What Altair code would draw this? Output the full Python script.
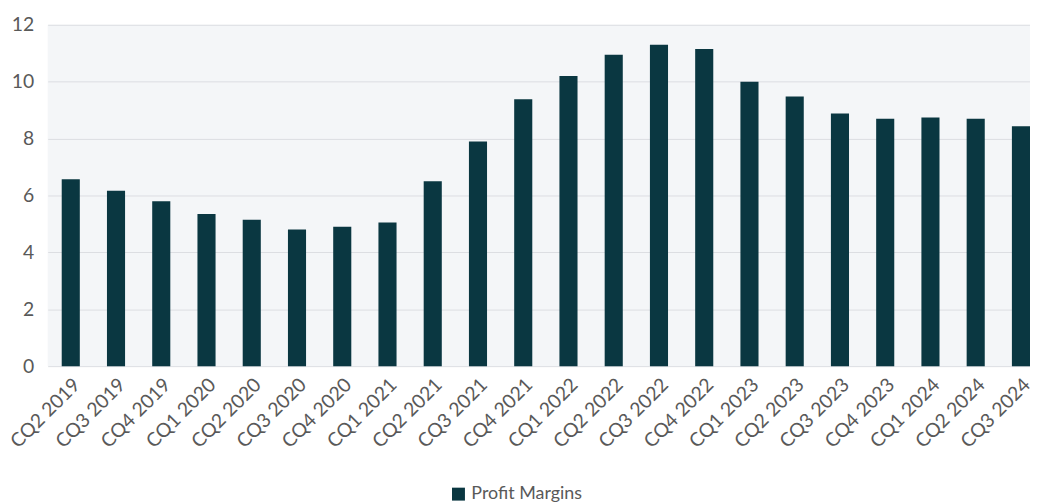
import altair as alt
import pandas as pd

quarters = ["CQ2 2019", "CQ3 2019", "CQ4 2019", "CQ1 2020", "CQ2 2020", "CQ3 2020",
            "CQ4 2020", "CQ1 2021", "CQ2 2021", "CQ3 2021", "CQ4 2021", "CQ1 2022",
            "CQ2 2022", "CQ3 2022", "CQ4 2022", "CQ1 2023", "CQ2 2023", "CQ3 2023",
            "CQ4 2023", "CQ1 2024", "CQ2 2024", "CQ3 2024"]
margins = [6.57, 6.17, 5.8, 5.35, 5.15, 4.8, 4.9, 5.05, 6.5, 7.9, 9.38, 10.2,
           10.95, 11.3, 11.15, 10.0, 9.48, 8.88, 8.7, 8.74, 8.7, 8.43]
series = ["Profit Margins"] * len(quarters)

df = pd.DataFrame({"quarter": quarters, "value": margins, "series": series})

FONT = "Lato"
GRAY = "#595959"

chart = alt.Chart(df).mark_bar(color="#0a3741").encode(
    x=alt.X("quarter:N", sort=quarters, title=None,
            scale=alt.Scale(paddingInner=0.6, paddingOuter=0.155, align=1),
            axis=alt.Axis(labelAngle=-45, labelFontSize=19.5, labelColor=GRAY,
                          labelFont=FONT, ticks=False, domain=False, labelPadding=9)),
    y=alt.Y("value:Q", title=None,
            scale=alt.Scale(domain=[0, 12], nice=False),
            axis=alt.Axis(values=[0, 2, 4, 6, 8, 10, 12], labelFontSize=19.5,
                          labelColor=GRAY, labelFont=FONT, ticks=False, domain=False,
                          labelPadding=14, gridColor="#dcdee2", gridWidth=1)),
    color=alt.Color("series:N", scale=alt.Scale(range=["#0a3741"]),
                    legend=alt.Legend(title=None, orient="none", legendX=405, legendY=464,
                                      symbolType="square", symbolSize=170,
                                      symbolStrokeWidth=0, labelFontSize=18,
                                      labelColor=GRAY, labelFont=FONT)),
).properties(
    width=990, height=344,
    padding={"left": 40, "top": 15, "right": 0, "bottom": 137},
    autosize=alt.AutoSizeParams(type="none"),
).configure_view(
    fill="#f4f6f8", stroke=None
)

chart.save("out.html", embed_options={"renderer": "svg", "actions": False})
